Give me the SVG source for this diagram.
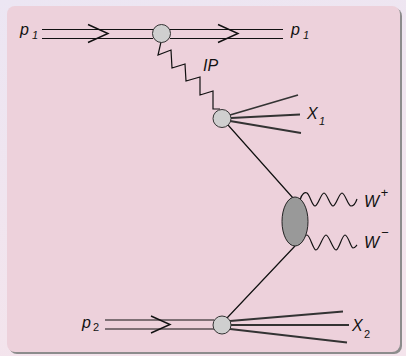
<svg xmlns="http://www.w3.org/2000/svg" width="406" height="356" viewBox="0 0 406 356">
<defs>
<linearGradient id="bg" x1="0" y1="0" x2="0.3" y2="1">
<stop offset="0" stop-color="#ece6f3"/>
<stop offset="1" stop-color="#f4e4ec"/>
</linearGradient>
<style>
.ln{stroke:#111;stroke-width:1.2;fill:none}
.th{stroke:#333;stroke-width:1.8;fill:none}
.ch{stroke:#111;stroke-width:1.4;fill:none;stroke-linejoin:miter}
.nd{fill:#cfcfcf;stroke:#333;stroke-width:1}
.t{font-family:"Liberation Sans",Arial,sans-serif;font-style:italic;font-size:16px;fill:#111}
.s{font-size:11px}
.u{font-style:normal}
</style>
</defs>
<rect width="406" height="356" fill="url(#bg)"/>
<rect x="9" y="8" width="393" height="346" rx="8" fill="#8c8c8c"/>
<rect x="7" y="6" width="393" height="346" rx="8" fill="#edd1db"/>

<g id="connectors">
<path class="ln" d="M42,29.5H153M42,38.5H153M170,29.5H283M170,38.5H283"/>
<path class="ch" d="M88,24.5L108,33.5L88,42.5M218,24.5L238,33.5L218,42.5"/>
<path class="ln" d="M105,320H214M105,329H214"/>
<path class="ch" d="M151,316L170,324.5L151,333"/>
<path class="ln" stroke-width="1" d="M161,42L158,55L171,50L172,68L185,64L186,81L200,77L200,95L213,91L213,109L220,109"/>
<path class="th" d="M230,115L298,95M231,118L300,114.5M230,121L301,133"/>
<path class="th" d="M230,321L343,311.5M231,325L349,325M230,329L347,342.5"/>
<path class="ln" stroke-width="1" d="M228,125L293,198M295,246L227,318"/>
<path class="ln" stroke-width="1" d="M300,200C302,193 305,192 307,193C310,195 312,206 315,206C318,206 321,193 324,193C327,193 330,206 333,206C336,206 339,193 342,193C345,193 348,206 351,206C354,206 356,202 357,199"/>
<path class="ln" stroke-width="1" d="M302,241C304,236 305,235 307,235C310,235 313,250 316,250C319,250 323,235 326,235C329,235 333,250 336,250C339,250 342,235 345,235C348,235 351,248 353,248C355,248 356,246 357,245"/>
</g>

<g id="node-top"><circle class="nd" cx="161.5" cy="33.5" r="9"/></g>
<g id="node-x1"><circle class="nd" cx="222" cy="118.5" r="9"/></g>
<g id="node-x2"><circle class="nd" cx="222" cy="325" r="9"/></g>
<g id="node-ww"><ellipse cx="295" cy="221.5" rx="13" ry="24.5" fill="#999" stroke="#222" stroke-width="1"/></g>

<g id="labels">
<text class="t" x="20" y="35">p<tspan class="s" x="32" y="38.5">1</tspan></text>
<text class="t" x="291" y="35">p<tspan class="s" x="303" y="38.5">1</tspan></text>
<text class="t" x="203" y="71">IP</text>
<text class="t" x="307" y="118.5">X<tspan class="s" x="319" y="124.5">1</tspan></text>
<text class="t" x="364" y="207">W<tspan x="380.5" y="197" font-size="13">+</tspan></text>
<text class="t" x="364" y="248">W<tspan x="381" y="237" font-size="13">−</tspan></text>
<text class="t" x="352" y="331">X<tspan class="s u" x="364" y="337.5">2</tspan></text>
<text class="t" x="82" y="328">p<tspan class="s u" x="93" y="331">2</tspan></text>
</g>
</svg>
